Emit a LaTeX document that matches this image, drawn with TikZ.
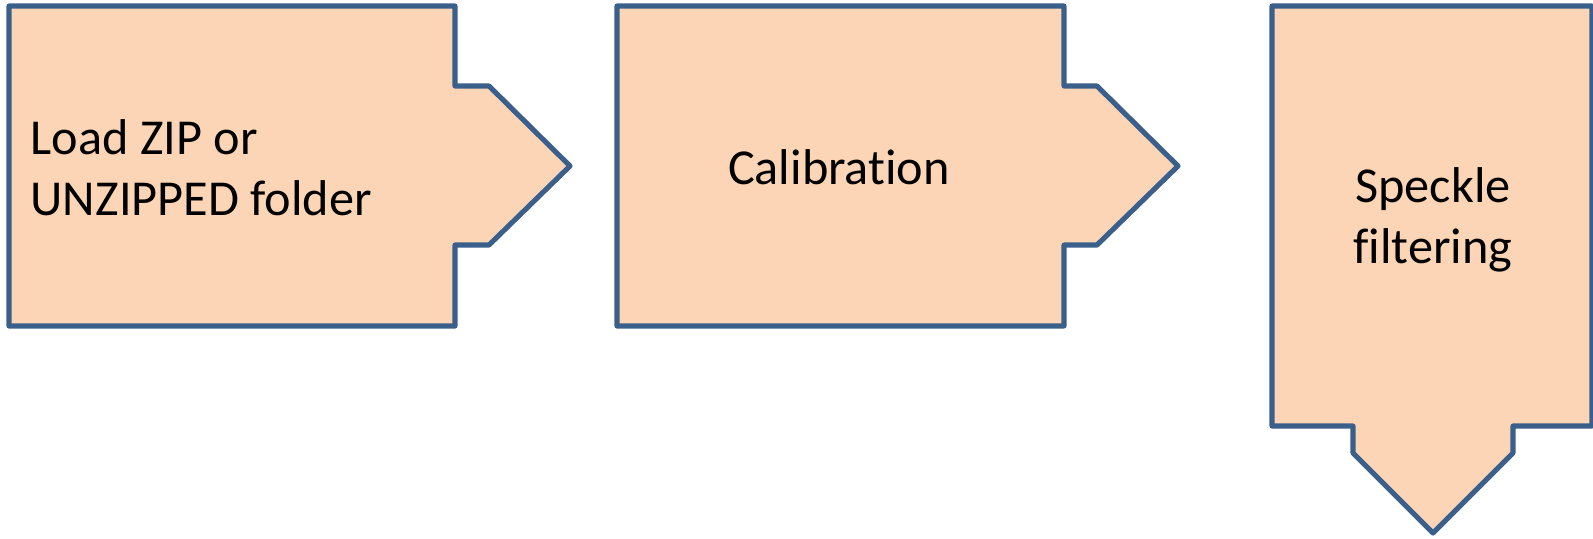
\documentclass[tikz,border=0pt]{standalone}
\usepackage{fontspec}
\setmainfont{Carlito}[Ligatures=NoCommon]
\usepackage{tikz}
\usetikzlibrary{positioning}

\definecolor{stepfill}{HTML}{FBD5B5}
\definecolor{stepline}{HTML}{3A5F8B}

\begin{document}
\begin{tikzpicture}[
    x=0.01cm, y=-0.01cm,
    font=\fontsize{14.3}{17.3}\selectfont,
    stage/.style={draw=stepline, fill=stepfill, line width=1.45pt,
                  line join=round},
    lbl/.style={inner sep=0pt, align=center},
  ]

  \useasboundingbox (0,0) rectangle (1593,538);

  % Pentagon stages pointing right
  \draw[stage] (9,6) -- (455,6) -- (455,86) -- (489,86) -- (570,166)
    -- (489,245) -- (455,245) -- (455,326) -- (9,326) -- cycle;
  \draw[stage] (617,6) -- (1064,6) -- (1064,86) -- (1097,86) -- (1178,166)
    -- (1097,245) -- (1064,245) -- (1064,326) -- (617,326) -- cycle;

  % Last stage points down
  \draw[stage] (1272,6) -- (1592,6) -- (1592,426) -- (1513,426)
    -- (1513,453) -- (1433,533) -- (1353,453) -- (1353,426)
    -- (1272,426) -- cycle;

  % Labels
  \node[lbl, align=left, anchor=west] (load) at (30,168)
    {Load ZIP or\\UNZIPPED folder};
  \node[lbl] (calib) at (839,167) {Calibration};
  \node[lbl] (speckle) at (1433,220) {Speckle\\filtering};

\end{tikzpicture}
\end{document}
